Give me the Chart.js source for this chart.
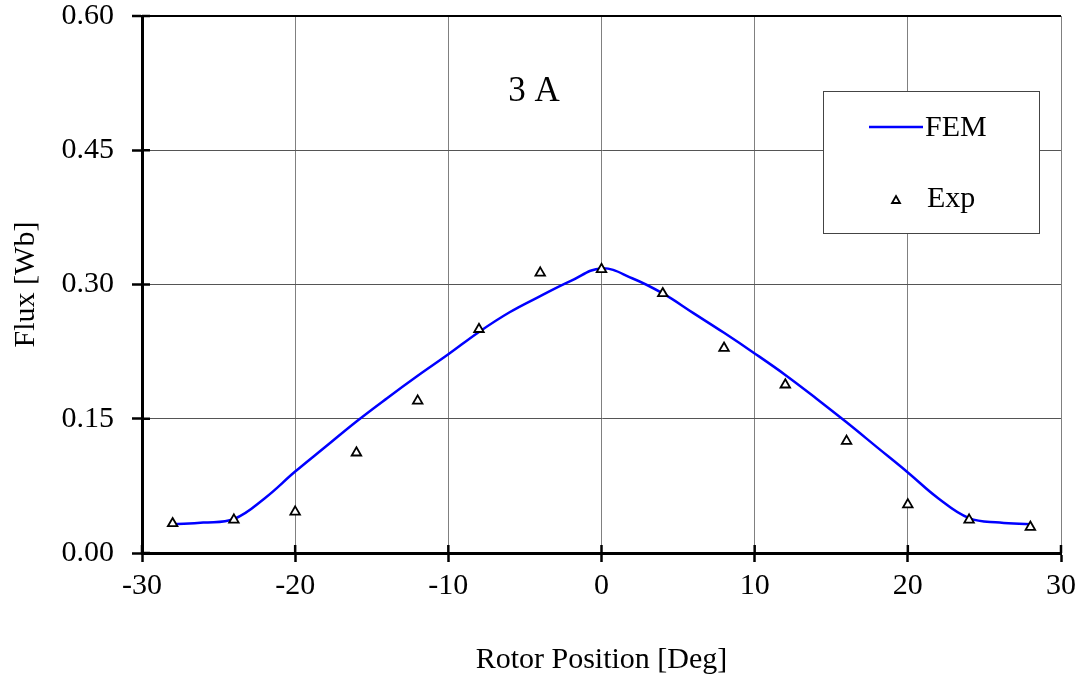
<!DOCTYPE html>
<html>
<head>
<meta charset="utf-8">
<script src="https://cdn.jsdelivr.net/npm/chart.js@4.4.1/dist/chart.umd.min.js"></script>
<style>
	body { margin: 0; background: #fff; }
	#wrap { width: 1088px; height: 682px; }
</style>
</head>
<body>
<div id="wrap"><canvas id="c"></canvas></div>
<script>
// FEM curve (every 2 deg)
var femPos = [-28, -26, -24, -22, -20, -18, -16, -14, -12, -10, -8, -6, -4, -2, 0, 2, 4, 6, 8, 10, 12, 14, 16, 18, 20, 22, 24, 26, 28]
var femFlux = [0.032, 0.034, 0.038, 0.061, 0.091, 0.119, 0.147, 0.173, 0.198, 0.222, 0.247, 0.269, 0.287, 0.304, 0.318, 0.307, 0.290, 0.268, 0.246, 0.223, 0.199, 0.173, 0.146, 0.118, 0.090, 0.061, 0.039, 0.034, 0.032]
// measured points
var expPos = [-28, -24, -20, -16, -12, -8, -4, 0, 4, 8, 12, 16, 20, 24, 28]
var expFlux = [0.033, 0.037, 0.046, 0.112, 0.170, 0.250, 0.313, 0.317, 0.290, 0.229, 0.188, 0.125, 0.054, 0.037, 0.029]
var seriesLabels = ['FEM', 'Exp']
var xTicks = [-30, -20, -10, 0, 10, 20, 30]
var yTicks = [0.00, 0.15, 0.30, 0.45, 0.60]
var xTitle = 'Rotor Position [Deg]'
var yTitle = 'Flux [Wb]'
var noteText = '3 A'

var serif = "'Liberation Serif', 'Times New Roman', serif"

function pairs(xs, ys) {
	return xs.map(function (x, i) { return { x: x, y: ys[i] } })
}

// short tick marks on the inner side of the axes
var innerTicks = {
	id: 'innerTicks',
	afterDraw: function (chart) {
		var ctx = chart.ctx, a = chart.chartArea
		var xs = chart.scales.x, ys = chart.scales.y
		ctx.save()
		ctx.strokeStyle = '#000'
		ctx.lineWidth = 2.5
		xTicks.forEach(function (v) {
			var px = xs.getPixelForValue(v)
			ctx.beginPath(); ctx.moveTo(px, a.bottom); ctx.lineTo(px, a.bottom - 8); ctx.stroke()
		})
		yTicks.forEach(function (v) {
			var py = ys.getPixelForValue(v)
			ctx.beginPath(); ctx.moveTo(a.left, py); ctx.lineTo(a.left + 8, py); ctx.stroke()
		})
		ctx.restore()
	}
}

// "3 A" note and boxed legend
var annotations = {
	id: 'annotations',
	afterDatasetsDraw: function (chart) {
		var ctx = chart.ctx
		var xs = chart.scales.x, ys = chart.scales.y
		ctx.save()
		ctx.fillStyle = '#000'
		ctx.font = '35px ' + serif
		ctx.textAlign = 'center'
		ctx.textBaseline = 'middle'
		ctx.fillText(noteText, xs.getPixelForValue(-4.4), ys.getPixelForValue(0.515))

		// legend box
		var bx = 823, by = 91, bw = 216, bh = 142
		ctx.fillStyle = '#fff'
		ctx.fillRect(bx, by, bw, bh)
		ctx.strokeStyle = '#444'
		ctx.lineWidth = 1
		ctx.strokeRect(bx + 0.5, by + 0.5, bw, bh)

		var d0 = chart.data.datasets[0], d1 = chart.data.datasets[1]
		ctx.strokeStyle = d0.borderColor
		ctx.lineWidth = d0.borderWidth
		ctx.beginPath(); ctx.moveTo(869, 127); ctx.lineTo(923, 127); ctx.stroke()

		ctx.fillStyle = '#000'
		ctx.font = '30px ' + serif
		ctx.textAlign = 'left'
		ctx.fillText(d0.label, 925, 128)
		ctx.fillText(d1.label, 927, 199)

		ctx.fillStyle = d1.pointBackgroundColor
		ctx.strokeStyle = d1.pointBorderColor
		ctx.lineWidth = d1.pointBorderWidth
		ctx.beginPath()
		ctx.moveTo(896, 196); ctx.lineTo(900, 203); ctx.lineTo(892, 203); ctx.closePath()
		ctx.fill(); ctx.stroke()
		ctx.restore()
	}
}

var ctx = document.getElementById('c').getContext('2d')
var chart = new Chart(ctx, {
	type: 'scatter',
	data: {
		datasets: [
			{
				label: seriesLabels[0],
				data: pairs(femPos, femFlux),
				showLine: true,
				borderColor: '#0000ff',
				borderWidth: 2.5,
				pointRadius: 0,
				tension: 0.4,
				order: 2,
			},
			{
				label: seriesLabels[1],
				data: pairs(expPos, expFlux),
				showLine: false,
				pointStyle: 'triangle',
				pointRadius: 5.5,
				pointBorderWidth: 1.8,
				pointBorderColor: '#000',
				pointBackgroundColor: '#fff',
				order: 1,
			},
		],
	},
	options: {
		responsive: true,
		maintainAspectRatio: false,
		animation: false,
		layout: { padding: { top: 16, right: 27, left: 0, bottom: 0 } },
		plugins: {
			legend: { display: false },
			tooltip: { enabled: false },
		},
		scales: {
			x: {
				type: 'linear',
				min: -30,
				max: 30,
				afterFit: function (s) { s.height = 129; s.paddingLeft = 0; s.paddingRight = 0 },
				afterBuildTicks: function (s) { s.ticks = xTicks.map(function (v) { return { value: v } }) },
				border: { color: '#000', width: 3 },
				grid: { color: '#808080', lineWidth: 1, tickLength: 9, tickWidth: 2.5, tickColor: '#000' },
				ticks: { color: '#000', font: { family: serif, size: 30 }, padding: 6, maxRotation: 0 },
				title: { display: true, text: xTitle, color: '#000', font: { family: serif, size: 30 }, padding: { top: 0, bottom: 4 } },
			},
			y: {
				type: 'linear',
				min: 0,
				max: 0.6,
				afterFit: function (s) { s.width = 142; s.paddingTop = 0; s.paddingBottom = 0 },
				afterBuildTicks: function (s) { s.ticks = yTicks.map(function (v) { return { value: v } }) },
				border: { color: '#000', width: 3 },
				grid: {
					color: function (c) { return c.tick && c.tick.value === 0.6 ? '#000' : '#555' },
					lineWidth: function (c) { return c.tick && c.tick.value === 0.6 ? 2 : 1 },
					tickLength: 10, tickWidth: 2.5, tickColor: '#000',
				},
				ticks: { color: '#000', font: { family: serif, size: 30 }, padding: 18, callback: function (v) { return v.toFixed(2) } },
				title: { display: true, text: yTitle, color: '#000', font: { family: serif, size: 30 }, padding: { top: 8, bottom: 0 } },
			},
		},
	},
	plugins: [innerTicks, annotations],
})
</script>
</body>
</html>
